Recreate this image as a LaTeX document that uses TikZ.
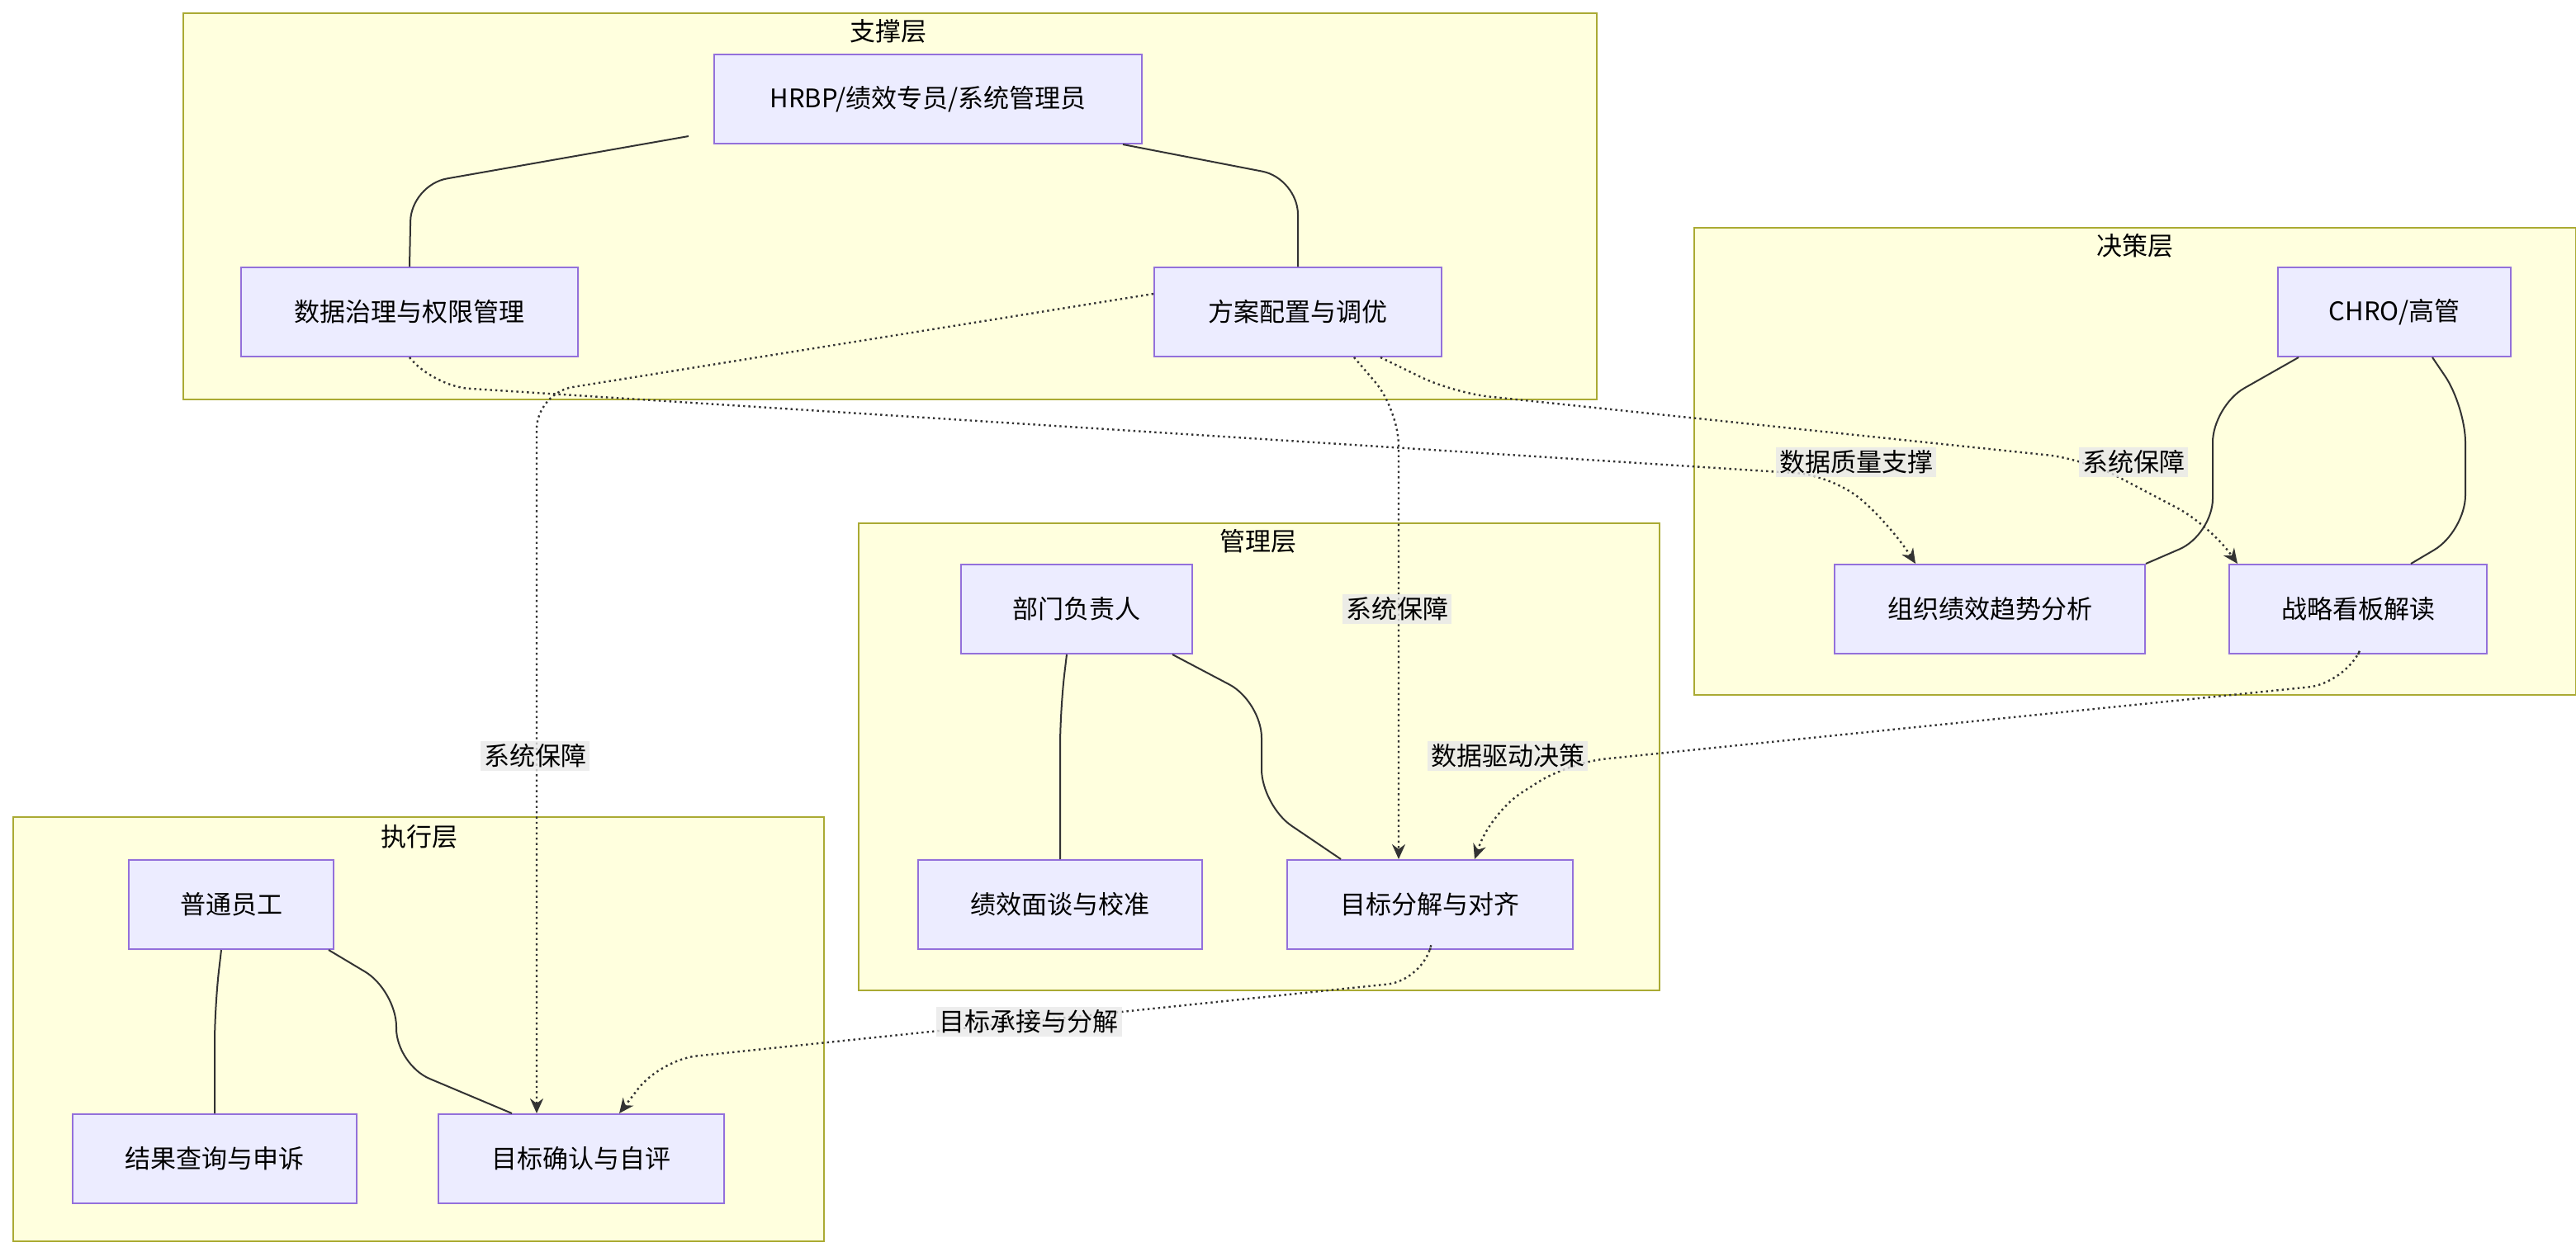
\documentclass[tikz,border=0pt]{standalone}
\usepackage{fontspec}
\setmainfont{Noto Sans CJK SC}
\usetikzlibrary{arrows.meta}
\definecolor{clfill}{HTML}{FFFFDE}
\definecolor{cldraw}{HTML}{AAAA33}
\definecolor{ndfill}{HTML}{ECECFF}
\definecolor{nddraw}{HTML}{9370DB}
\definecolor{lnk}{HTML}{333333}
\definecolor{lblbg}{HTML}{E8E8E8}
\tikzset{every picture/.style={line width=1pt}}
\tikzset{
  layer/.style={draw=cldraw,fill=clfill},
  box/.style={draw=nddraw,fill=ndfill,minimum height=54,inner sep=0pt,font=\fontsize{15.5}{18}\selectfont},
  ttl/.style={font=\fontsize{15.5}{18}\selectfont},
  solid link/.style={draw=lnk,rounded corners=22},
  dot link/.style={draw=lnk,dotted,line width=1.2pt,rounded corners=22,-{Stealth[length=9,width=8]}},
  lbl/.style={fill=lblbg,fill opacity=0.8,text opacity=1,inner sep=2pt,font=\fontsize{15.5}{18}\selectfont}
}
\begin{document}
\begin{tikzpicture}[x=1pt,y=-1pt]
\useasboundingbox (0,0) rectangle (1560,758);

% layers
\draw[layer] (111,8) rectangle (967,242);
\node[ttl] at (538,19) {支撑层};
\draw[layer] (1026,138) rectangle (1560,421);
\node[ttl] at (1293,149) {决策层};
\draw[layer] (520,317) rectangle (1005,600);
\node[ttl] at (762,328) {管理层};
\draw[layer] (8,495) rectangle (499,752);
\node[ttl] at (254,507) {执行层};

% nodes
\node[box,minimum width=259] (hr) at (562,60) {HRBP/绩效专员/系统管理员};
\node[box,minimum width=204] (gov) at (248,189) {数据治理与权限管理};
\node[box,minimum width=174] (cfg) at (786,189) {方案配置与调优};
\node[box,minimum width=141] (exec) at (1450,189) {CHRO/高管};
\node[box,minimum width=188] (trend) at (1205,369) {组织绩效趋势分析};
\node[box,minimum width=156] (board) at (1428,369) {战略看板解读};
\node[box,minimum width=140] (dept) at (652,369) {部门负责人};
\node[box,minimum width=172] (talk) at (642,548) {绩效面谈与校准};
\node[box,minimum width=173] (goal) at (866,548) {目标分解与对齐};
\node[box,minimum width=124] (emp) at (140,548) {普通员工};
\node[box,minimum width=172] (query) at (130,702) {结果查询与申诉};
\node[box,minimum width=173] (self) at (352,702) {目标确认与自评};

% solid links
\draw[solid link] (hr.south west) ++(-15,-5) -- (249,112) -- (gov.north);
\draw[solid link] (hr.south east) ++(-12,0) -- (786,108) -- (cfg.north);
\draw[solid link] (exec.south west) ++(13,0) -- (1340,246) -- (1340,324) -- (trend.north east) ++(-25,0);
\draw[solid link] (exec.south east) ++(-48,0) -- (1493,246) -- (1493,322) -- ([xshift=32]board.north);
\draw[solid link] ([xshift=-6]dept.south) -- (642,430) -- (talk.north);
\draw[solid link] ([xshift=58]dept.south) -- (764,425) -- (764,488) -- ([xshift=-54]goal.north);
\draw[solid link] ([xshift=-6]emp.south) -- (130,610) -- (query.north);
\draw[solid link] ([xshift=59]emp.south) -- (240,600) -- (240,645) -- ([xshift=-42]self.north);

% dotted links
\draw[dot link] ([yshift=11]cfg.west) -- (325,238) -- ([xshift=-27]self.north);
\draw[dot link] ([xshift=34]cfg.south) -- (847,248) -- ([xshift=-19]goal.north);
\draw[dot link] ([xshift=50]cfg.south) -- (880,238) -- (1262,278) -- (1338,318) -- ([xshift=-73]board.north);
\draw[dot link] (gov.south) -- (262,234) -- (1110,288) -- (1145,318) -- ([xshift=-45]trend.north);
\draw[dot link] (board.south) -- (1420,414) -- (950,462) -- (903,492) -- ([xshift=27]goal.north);
\draw[dot link] (goal.south) -- (862,594) -- (400,642) -- ([xshift=23]self.north);

% link labels
\node[lbl] at (324,458) {系统保障};
\node[lbl] at (846,369) {系统保障};
\node[lbl] at (1292,280) {系统保障};
\node[lbl] at (1124,280) {数据质量支撑};
\node[lbl] at (913,458) {数据驱动决策};
\node[lbl] at (623,619) {目标承接与分解};
\end{tikzpicture}
\end{document}
